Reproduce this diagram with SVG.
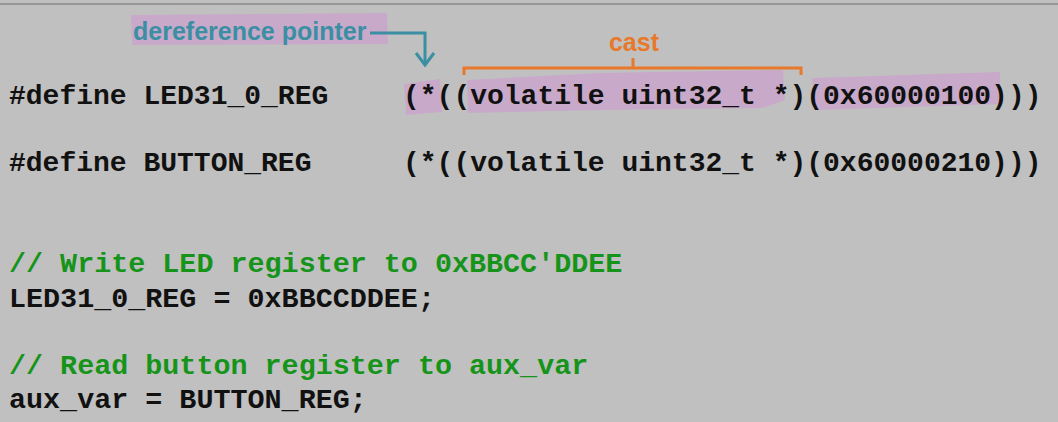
<svg xmlns="http://www.w3.org/2000/svg" width="1058" height="422" viewBox="0 0 1058 422">
  <style>
    .code { font-family: "Liberation Mono", "Courier New", monospace; font-weight: bold; font-size: 28px; fill: #111111; white-space: pre; }
    .wide { font-size: 28.4px; }
    .cmt { fill: #16941a; }
    .hl { fill: #c8a9ca; }
    .ann { font-family: "Liberation Sans", Arial, sans-serif; font-weight: bold; font-size: 25px; }
    .teal { fill: #3a8fa2; }
    .orange { fill: #e8782a; }
  </style>
  <rect x="0" y="0" width="1058" height="422" fill="#c0c0c0"/>
  <line x1="0" y1="4" x2="1058" y2="4" stroke="#8a8a8a" stroke-width="1.5"/>

  <g id="highlights">
    <path class="hl" d="M131,15 L387,13 L388,44 L132,45 Z"/>
    <path class="hl" d="M404,84 L440,79 L442,112 L406,115 Z"/>
    <path class="hl" d="M467,80 L600,73 L783,70 L785,100 L762,108 L600,110 L468,113 Z"/>
    <path class="hl" d="M812,78 L1000,72 L1001,104 L815,110 Z"/>
  </g>

  <g id="annotation-dereference">
    <text class="ann teal" x="133" y="40">dereference pointer</text>
  </g>
  <g id="annotation-cast">
    <text class="ann orange" x="634" y="51" text-anchor="middle">cast</text>
  </g>

  <g id="connectors" fill="none" stroke-width="3" stroke-linejoin="miter">
    <path d="M370,33 H425 V64" stroke="#3a8fa2"/>
    <path d="M416,53 L425,65 L434,53" stroke="#3a8fa2"/>
    <path d="M464,75 V68 H801 V75" stroke="#e8782a"/>
    <path d="M633,68 V58" stroke="#e8782a"/>
  </g>

  <g id="code">
    <text class="code" x="9" y="104">#define LED31_0_REG</text>
    <text class="code" x="403" y="104">(*((volatile uint32_t *)(0x60000100)))</text>
    <text class="code" x="9" y="171">#define BUTTON_REG</text>
    <text class="code" x="403" y="171">(*((volatile uint32_t *)(0x60000210)))</text>
    <text class="code wide cmt" x="9" y="272">// Write LED register to 0xBBCC'DDEE</text>
    <text class="code wide" x="9" y="307">LED31_0_REG = 0xBBCCDDEE;</text>
    <text class="code wide cmt" x="9" y="374">// Read button register to aux_var</text>
    <text class="code wide" x="9" y="408">aux_var = BUTTON_REG;</text>
  </g>
</svg>
